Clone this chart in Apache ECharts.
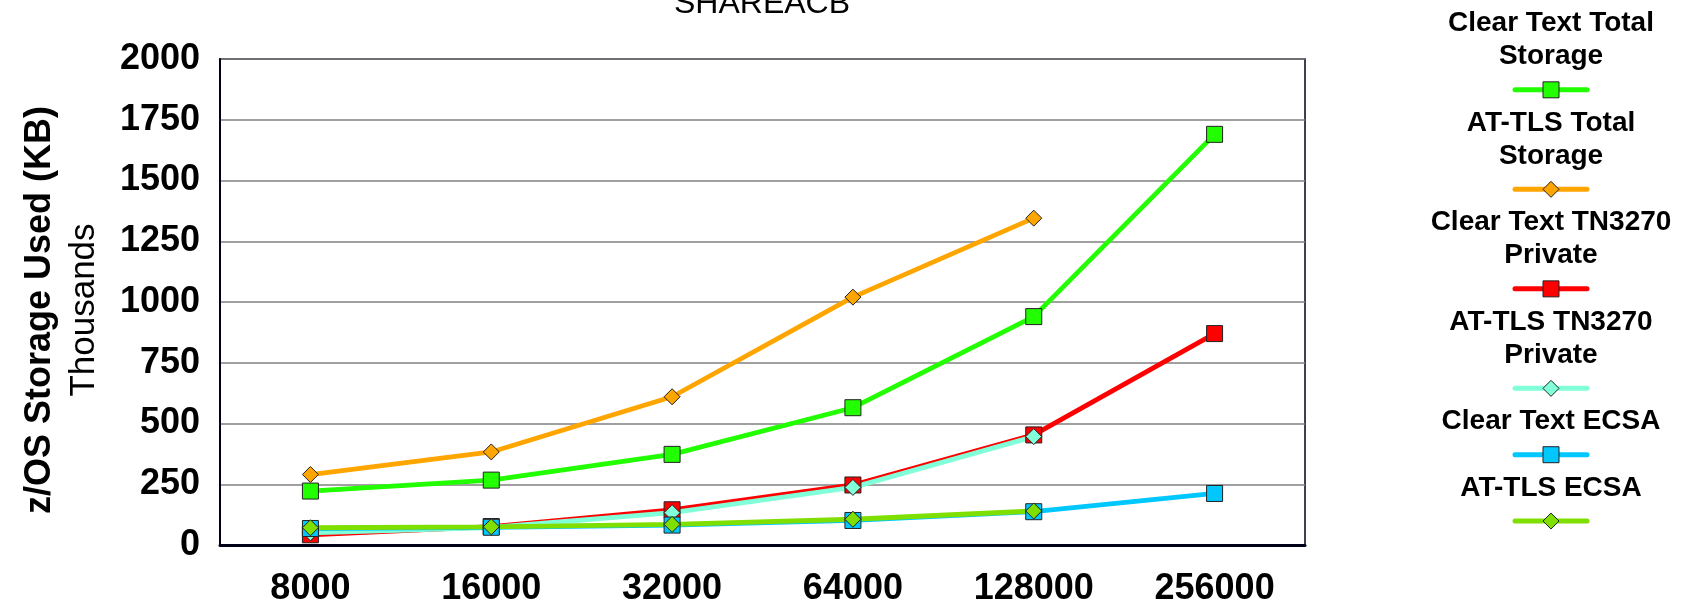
<!DOCTYPE html>
<html>
<head>
<meta charset="utf-8">
<script src="https://cdn.jsdelivr.net/npm/echarts@6/dist/echarts.min.js"></script>
<style>
  html, body { margin: 0; padding: 0; background: #fff; }
  #chart { width: 1688px; height: 609px; }
</style>
</head>
<body>
<div id="chart"></div>
<script>
// Connection counts on the category axis
const categories = ['8000', '16000', '32000', '64000', '128000', '256000'];

// Storage used, in thousands of KB
const clearTextTotal   = [222, 267, 373, 565, 940, 1690];
const atTlsTotal       = [290, 383, 610, 1020, 1345, null];
const clearTextTn3270  = [42, 76, 145, 247, 453, 870];
const atTlsTn3270      = [50, 72, 133, 237, 446, null];
const clearTextEcsa    = [68, 73, 82, 101, 137, 212];
const atTlsEcsa        = [71, 75, 85, 106, 140, null];

const yTicks = [0, 250, 500, 750, 1000, 1250, 1500, 1750, 2000];

const seriesDefs = [
  { name: 'Clear Text Total\nStorage',   data: clearTextTotal,  color: '#22ff00', symbol: 'rect' },
  { name: 'AT-TLS Total\nStorage',       data: atTlsTotal,      color: '#ffa500', symbol: 'diamond' },
  { name: 'Clear Text TN3270\nPrivate',  data: clearTextTn3270, color: '#ff0000', symbol: 'rect' },
  { name: 'AT-TLS TN3270\nPrivate',      data: atTlsTn3270,     color: '#80ffd8', symbol: 'diamond' },
  { name: 'Clear Text ECSA',             data: clearTextEcsa,   color: '#00c8ff', symbol: 'rect' },
  { name: 'AT-TLS ECSA',                 data: atTlsEcsa,       color: '#7fdf00', symbol: 'diamond' }
];

const FONT = '"Liberation Sans", Arial, sans-serif';
const GRID = { left: 220, right: 383, top: 59, bottom: 64 };

const series = seriesDefs.map(s => ({
  name: s.name,
  type: 'line',
  data: s.data,
  symbol: s.symbol,
  symbolSize: 16,
  showAllSymbol: true,
  connectNulls: false,
  lineStyle: { color: s.color, width: 4.8 },
  itemStyle: { color: s.color, borderColor: '#222', borderWidth: 1 },
  emphasis: { disabled: true }
}));

// Legend column: text lines stacked above a line-and-marker sample
const legendGraphics = [];
const legendCx = 1551;
const rowPitch = 33.17;
let row = 0;
const rowY = r => 23.5 + r * rowPitch;
seriesDefs.forEach(s => {
  s.name.split('\n').forEach(line => {
    legendGraphics.push({
      type: 'text',
      x: legendCx, y: rowY(row),
      style: {
        text: line, fill: '#000',
        font: 'bold 28px ' + FONT,
        textAlign: 'center', textVerticalAlign: 'middle'
      }
    });
    row++;
  });
  const sy = rowY(row);
  legendGraphics.push({
    type: 'line',
    shape: { x1: legendCx - 36, y1: sy, x2: legendCx + 36, y2: sy },
    style: { stroke: s.color, lineWidth: 5, lineCap: 'round' }
  });
  if (s.symbol === 'rect') {
    legendGraphics.push({
      type: 'rect',
      shape: { x: legendCx - 8, y: sy - 8, width: 16, height: 16 },
      style: { fill: s.color, stroke: '#222', lineWidth: 1 }
    });
  } else {
    legendGraphics.push({
      type: 'polygon',
      shape: { points: [[legendCx, sy - 8], [legendCx + 8, sy], [legendCx, sy + 8], [legendCx - 8, sy]] },
      style: { fill: s.color, stroke: '#222', lineWidth: 1 }
    });
  }
  row++;
});

const chart = echarts.init(document.getElementById('chart'), null, { renderer: 'canvas' });
chart.setOption({
  animation: false,
  backgroundColor: '#ffffff',
  textStyle: { fontFamily: FONT },
  title: {
    text: 'SHAREACB',
    left: 757,
    textAlign: 'center',
    top: -17,
    textStyle: { fontFamily: FONT, fontSize: 32, fontWeight: 'normal', color: '#000' }
  },
  grid: {
    left: GRID.left, right: GRID.right, top: GRID.top, bottom: GRID.bottom,
    show: true, borderColor: '#000018', borderWidth: 1.5, backgroundColor: 'transparent'
  },
  xAxis: {
    type: 'category',
    data: categories,
    boundaryGap: true,
    axisLine: { show: true, lineStyle: { color: '#000018', width: 3 } },
    axisTick: { show: false },
    axisLabel: { fontFamily: FONT, fontSize: 36, fontWeight: 'bold', color: '#000', margin: 26 },
    splitLine: { show: false }
  },
  yAxis: {
    type: 'value',
    min: yTicks[0],
    max: yTicks[yTicks.length - 1],
    interval: yTicks[1] - yTicks[0],
    axisLine: { show: true, lineStyle: { color: '#000018', width: 2 } },
    axisTick: { show: false },
    axisLabel: {
      fontFamily: FONT, fontSize: 36, fontWeight: 'bold', color: '#000', margin: 20,
      formatter: v => String(v)
    },
    splitLine: { show: true, lineStyle: { color: '#808080', width: 1.5 } }
  },
  series: series,
  graphic: [
    {
      type: 'text',
      x: 40, y: 310,
      rotation: Math.PI / 2,
      style: {
        text: 'z/OS Storage Used (KB)', fill: '#000',
        font: 'bold 36px ' + FONT,
        textAlign: 'center', textVerticalAlign: 'middle'
      }
    },
    {
      type: 'text',
      x: 84, y: 310,
      rotation: Math.PI / 2,
      style: {
        text: 'Thousands', fill: '#000',
        font: '35px ' + FONT,
        textAlign: 'center', textVerticalAlign: 'middle'
      }
    }
  ].concat(legendGraphics)
});
</script>
</body>
</html>
